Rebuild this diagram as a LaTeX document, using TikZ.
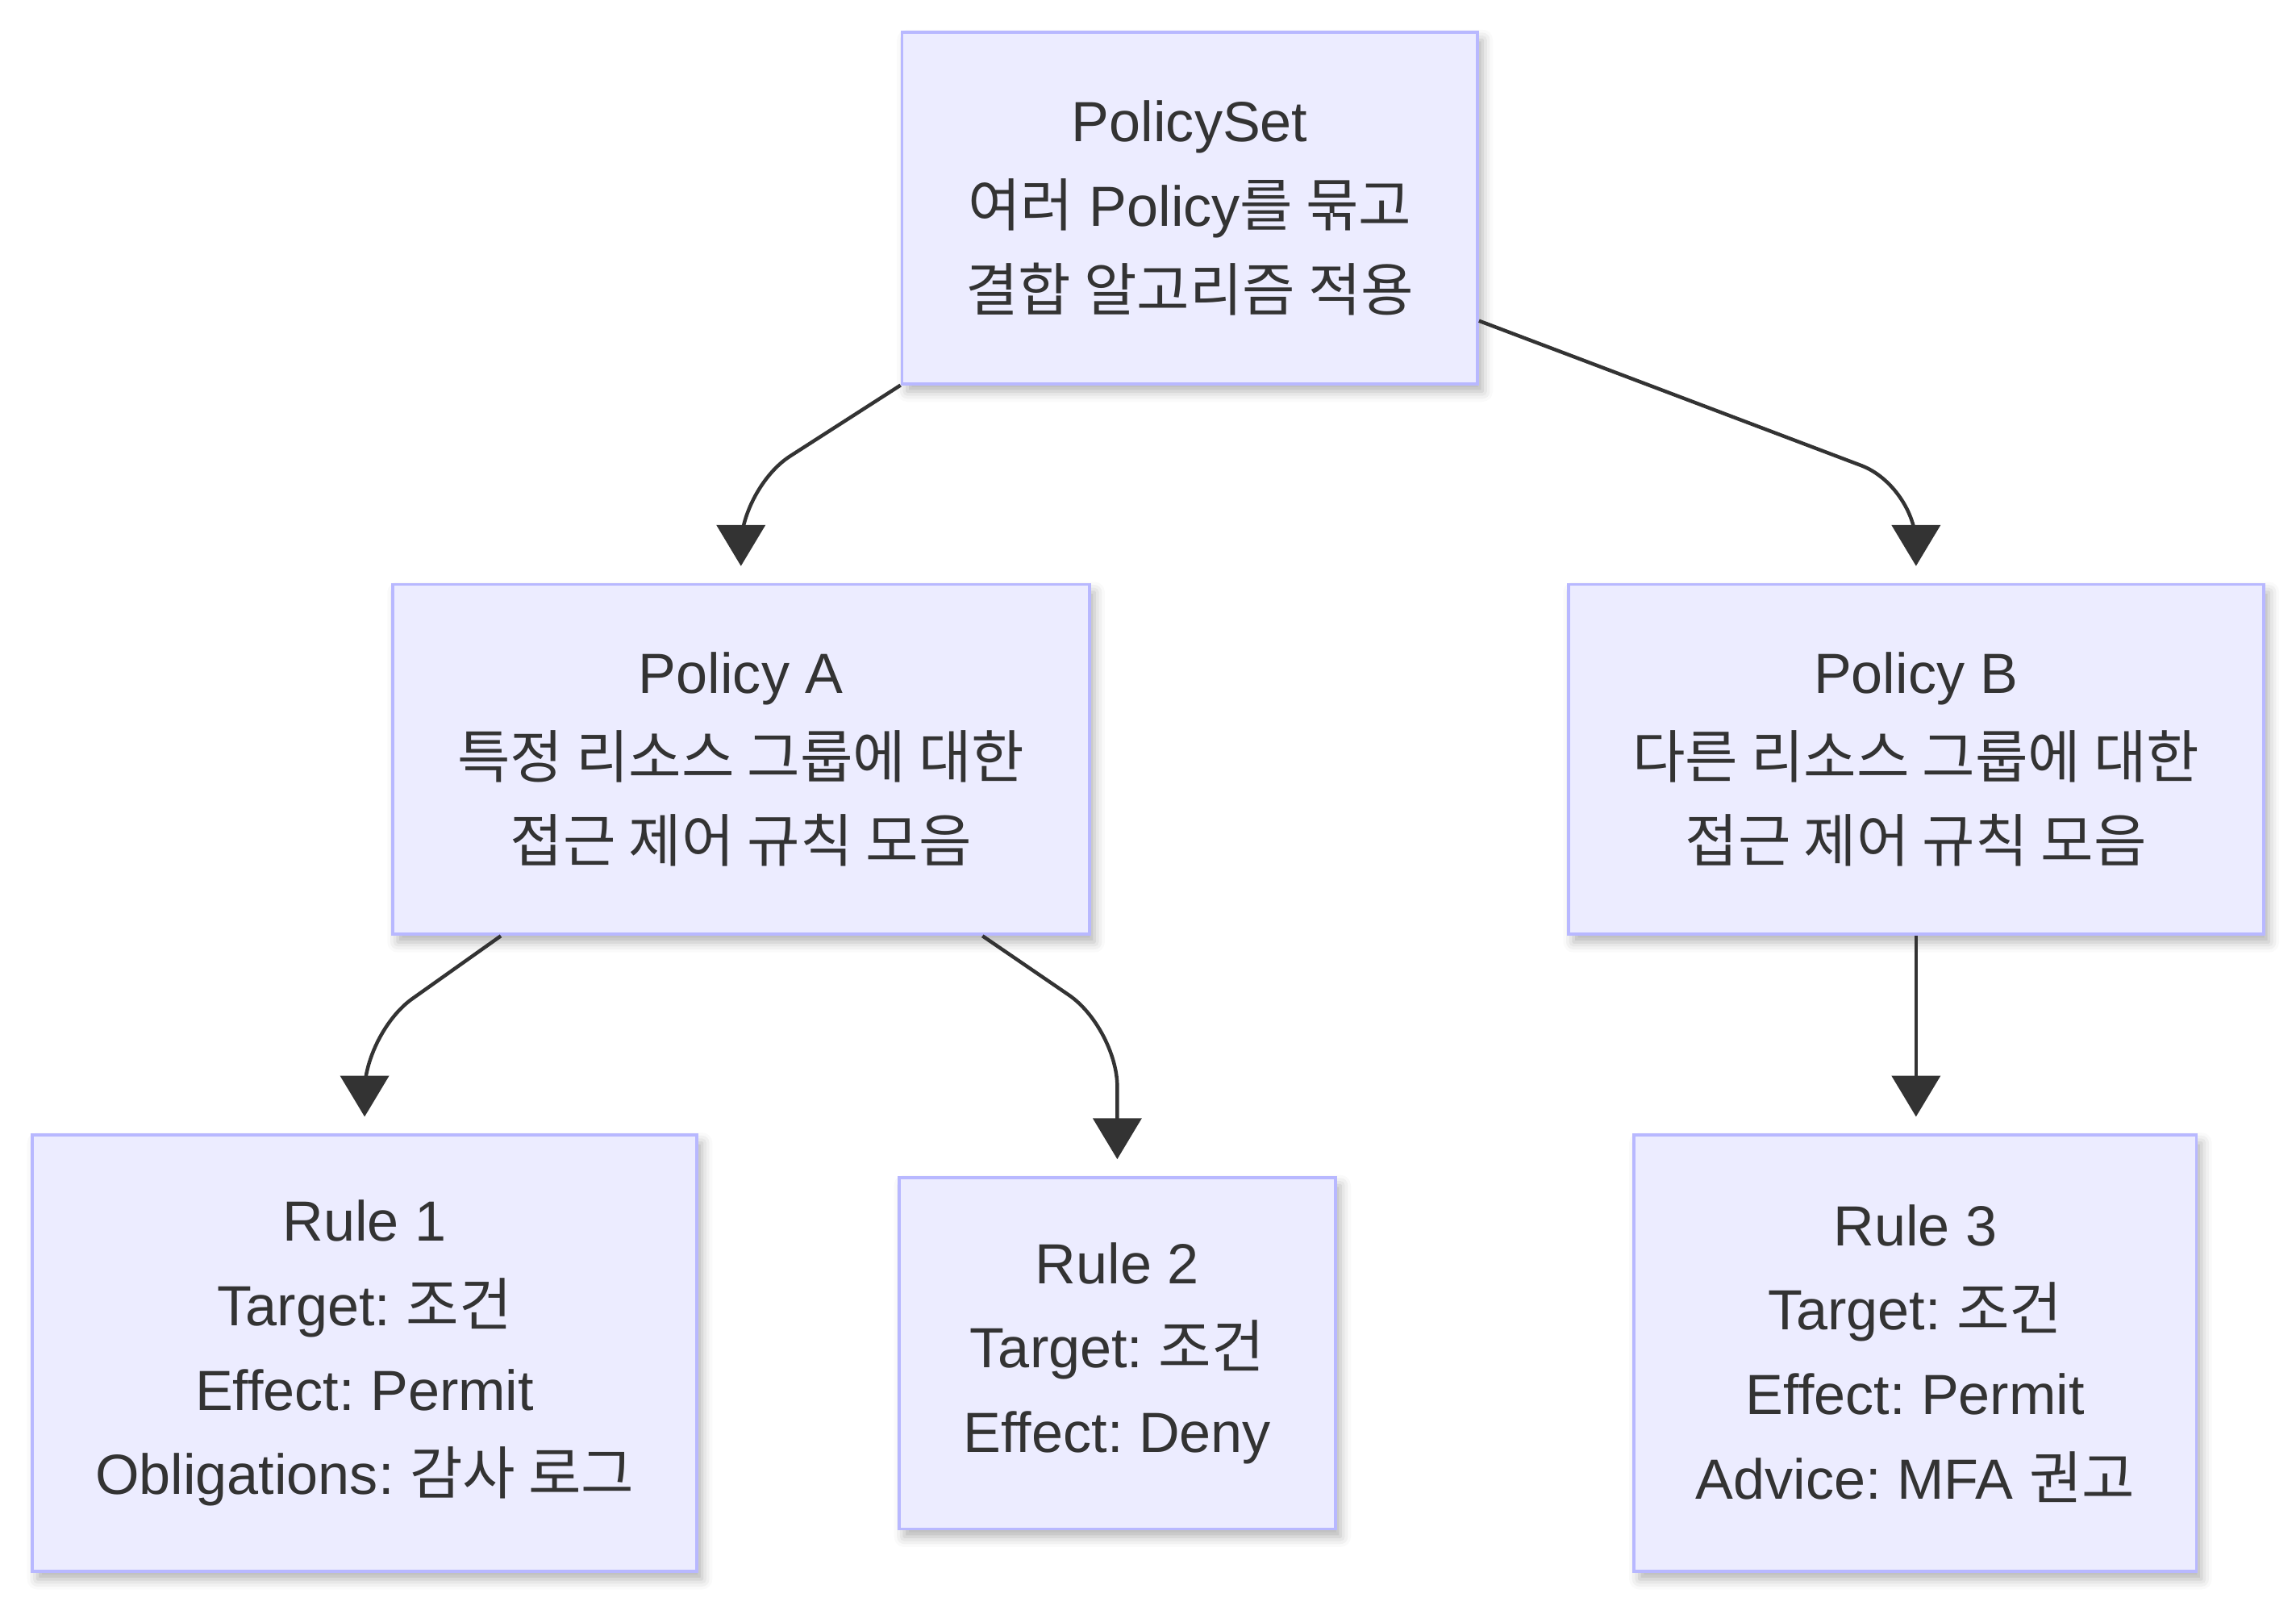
\documentclass[tikz,border=0pt]{standalone}
\usepackage{fontspec}
\setmainfont{Liberation Sans}
\newfontfamily\kr[Scale=1.015]{Noto Sans CJK KR}
\usetikzlibrary{arrows.meta, shadows.blur}
\definecolor{boxfill}{RGB}{236,236,255}
\definecolor{boxline}{RGB}{184,184,255}
\definecolor{inkgray}{RGB}{51,51,51}
\frenchspacing

\begin{document}
\begin{tikzpicture}[x=0.02cm, y=-0.02cm,
    box/.style={rectangle, draw=boxline, fill=boxfill, line width=1.2pt, align=center, text=inkgray, inner sep=0pt,
        blur shadow={shadow xshift=2pt, shadow yshift=-3pt, shadow blur radius=4pt, shadow opacity=30},
        font=\fontsize{22}{32.8}\selectfont},
    arr/.style={-{Triangle[length=0.56cm, width=0.66cm]}, line width=1.4pt, draw=inkgray, rounded corners=0.8cm, shorten >=0.23cm}
]
\useasboundingbox (0,0) rectangle (1568,1096);

\node[box, minimum width=7.86cm, minimum height=4.8cm] (ps) at (812.5,142) {PolicySet\\{\kr 여러} Policy{\kr 를 묶고}\\{\kr 결합 알고리즘 적용}};
\node[box, minimum width=9.52cm, minimum height=4.78cm] (pa) at (506,518.5) {Policy A\\{\kr 특정 리소스 그룹에 대한}\\{\kr 접근 제어 규칙 모음}};
\node[box, minimum width=9.5cm, minimum height=4.78cm] (pb) at (1308.5,518.5) {Policy B\\{\kr 다른 리소스 그룹에 대한}\\{\kr 접근 제어 규칙 모음}};
\node[box, minimum width=9.08cm, minimum height=5.96cm] (r1) at (249,924) {Rule 1\\Target: {\kr 조건}\\Effect: Permit\\Obligations: {\kr 감사 로그}};
\node[box, minimum width=5.96cm, minimum height=4.8cm] (r2) at (763,924) {Rule 2\\Target: {\kr 조건}\\Effect: Deny};
\node[box, minimum width=7.68cm, minimum height=5.96cm] (r3) at (1308,924) {Rule 3\\Target: {\kr 조건}\\Effect: Permit\\Advice: MFA {\kr 권고}};

% edges
\draw[arr] (ps.south west) -- (506,333) -- (pa.north);
\draw[arr] ([yshift=0.88cm]ps.south east) -- (1308.5,332) -- (pb.north);
\draw[arr] ([xshift=-3.28cm]pa.south) -- (249,705) -- (r1.north);
\draw[arr] ([xshift=3.3cm]pa.south) -- (763,702) -- (r2.north);
\draw[arr] (pb.south) -- (pb.south |- r3.north);

\end{tikzpicture}
\end{document}
